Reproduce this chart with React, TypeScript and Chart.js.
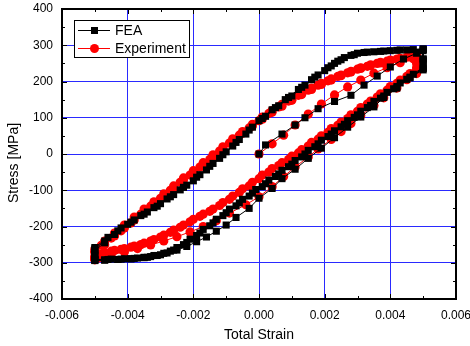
import React, { useEffect, useRef } from "react";
import { Chart, registerables } from "chart.js";

Chart.register(...registerables);

// ---------- data (strain, stress [MPa]) ----------
const seriesNames = ["FEA", "Experiment"];
const xTitle = "Total Strain";
const yTitle = "Stress [MPa]";

const xMajorTicks = [-0.006, -0.004, -0.002, 0, 0.002, 0.004, 0.006];
const xMinorTicks = [-0.005, -0.003, -0.001, 0.001, 0.003, 0.005];
const yMajorTicks = [-400, -300, -200, -100, 0, 100, 200, 300, 400];
const yMinorTicks = [-350, -250, -150, -50, 50, 150, 250, 350];

const feaInitialLoad = [
  [0, 0], [0.0002, 25], [0.0007, 55], [0.0011, 80], [0.0014, 100], [0.0018, 125],
  [0.0023, 145], [0.0028, 162], [0.0032, 190], [0.0036, 215], [0.004, 240],
  [0.0044, 262], [0.0048, 278], [0.005, 285],
];
const feaUnload1 = [
  [0.005, 262], [0.005, 237], [0.0046, 210], [0.0042, 182], [0.0038, 156], [0.0035, 130],
  [0.0031, 102], [0.0027, 74], [0.0023, 45], [0.0019, 16], [0.0015, -12], [0.0011, -42],
  [0.0007, -68], [0.0004, -95], [0, -122], [-0.0003, -150], [-0.0007, -175], [-0.001, -196],
  [-0.0013, -213], [-0.0016, -229], [-0.0019, -242], [-0.0022, -255], [-0.0025, -265],
  [-0.0028, -273], [-0.0032, -280], [-0.0035, -285], [-0.0039, -289], [-0.0043, -291],
  [-0.0047, -292], [-0.005, -293],
];
const feaReload1 = [
  [-0.005, -280], [-0.005, -266], [-0.0047, -245], [-0.0044, -222], [-0.004, -194],
  [-0.0036, -170], [-0.0032, -148], [-0.0028, -124], [-0.0024, -99], [-0.002, -74],
  [-0.0016, -44], [-0.0012, -12], [-0.0008, 22], [-0.0004, 55], [0, 92], [0.0004, 122],
  [0.0008, 150], [0.0012, 178], [0.0016, 205], [0.002, 230], [0.0023, 250], [0.0026, 266],
  [0.003, 278], [0.0035, 282], [0.004, 285], [0.0045, 287], [0.005, 288],
];
const feaUnload2 = [
  [0.005, 262], [0.005, 240], [0.0047, 220], [0.0043, 196], [0.0039, 170], [0.0035, 145],
  [0.0031, 118], [0.0027, 92], [0.0023, 64], [0.0019, 38], [0.0015, 10], [0.0011, -18],
  [0.0007, -45], [0.0003, -72], [-0.0001, -98], [-0.0005, -125], [-0.0009, -152],
  [-0.0013, -180], [-0.0017, -208], [-0.0021, -235], [-0.0025, -258], [-0.0029, -274],
  [-0.0033, -283], [-0.0037, -287], [-0.0041, -289], [-0.0045, -290], [-0.005, -291],
];
const feaReload2 = [
  [-0.005, -278], [-0.005, -262], [-0.0047, -240], [-0.0043, -212], [-0.0039, -188],
  [-0.0035, -166], [-0.0031, -144], [-0.0027, -118], [-0.0023, -92], [-0.0019, -64],
  [-0.0015, -34], [-0.0011, -2], [-0.0007, 32], [-0.0003, 66], [0.0001, 98], [0.0005, 128],
  [0.0009, 156], [0.0013, 184], [0.0017, 212], [0.0021, 238], [0.0024, 256], [0.0028, 272],
  [0.0032, 280], [0.0037, 283], [0.0042, 286], [0.0047, 288], [0.005, 289],
];
const feaUnload3 = [
  [0.005, 258], [0.005, 236], [0.0046, 212], [0.0042, 186], [0.0038, 160], [0.0034, 134],
  [0.003, 108], [0.0026, 82], [0.0022, 55], [0.0018, 28], [0.0014, 0], [0.001, -28],
  [0.0006, -55], [0.0002, -82], [-0.0002, -108], [-0.0006, -135], [-0.001, -162],
  [-0.0014, -190], [-0.0018, -218], [-0.0022, -244], [-0.0026, -265], [-0.003, -278],
  [-0.0034, -285], [-0.0038, -288], [-0.0042, -290], [-0.0046, -291], [-0.005, -292],
];
const feaReload3 = [
  [-0.005, -276], [-0.005, -258], [-0.0046, -230], [-0.0042, -204], [-0.0038, -182],
  [-0.0034, -160], [-0.003, -137], [-0.0026, -112], [-0.0022, -86], [-0.0018, -57],
  [-0.0014, -26], [-0.001, 6], [-0.0006, 40], [-0.0002, 74], [0.0002, 104], [0.0006, 133],
  [0.001, 160], [0.0014, 190], [0.0018, 218], [0.0022, 243], [0.0025, 260], [0.0029, 274],
  [0.0033, 281], [0.0038, 284], [0.0043, 287], [0.005, 290],
];
const feaUnload4 = [
  [0.005, 255], [0.005, 232], [0.0045, 206], [0.0041, 180], [0.0037, 154], [0.0033, 128],
  [0.0029, 101], [0.0025, 75], [0.0021, 48], [0.0017, 20], [0.0013, -8], [0.0009, -35],
  [0.0005, -62], [0.0001, -90], [-0.0003, -116], [-0.0007, -143], [-0.0011, -170],
  [-0.0015, -198], [-0.0019, -225], [-0.0023, -250], [-0.0027, -268], [-0.0031, -280],
  [-0.0035, -286], [-0.0039, -289], [-0.0043, -291], [-0.0047, -293], [-0.005, -294],
];

const expInitialLoad = [
  [0, 0], [0.0004, 28], [0.00075, 52], [0.0011, 80], [0.0015, 110], [0.0019, 138],
  [0.0023, 163], [0.0027, 185], [0.0031, 204], [0.0035, 223], [0.0039, 238],
  [0.0043, 252], [0.0047, 263], [0.0048, 268],
];
const expUnload1 = [
  [0.0048, 250], [0.0048, 222], [0.0045, 205], [0.0042, 182], [0.0038, 155], [0.0035, 134],
  [0.0031, 106], [0.0028, 84], [0.0025, 62], [0.0022, 40], [0.0018, 14], [0.0015, -8],
  [0.0011, -36], [0.00075, -62], [0.0004, -90], [0, -118], [-0.0004, -140], [-0.0009, -163],
  [-0.0013, -184], [-0.0017, -200], [-0.0021, -215], [-0.0025, -228], [-0.0029, -240],
  [-0.0033, -251], [-0.0037, -261], [-0.0041, -270], [-0.0045, -278], [-0.0049, -287],
  [-0.005, -292],
];
const expReload1 = [
  [-0.005, -285], [-0.005, -268], [-0.0048, -252], [-0.0045, -232], [-0.0042, -212],
  [-0.0039, -190], [-0.0036, -166], [-0.0033, -144], [-0.003, -122], [-0.0027, -100],
  [-0.0024, -78], [-0.0021, -58], [-0.0018, -36], [-0.0015, -15], [-0.0012, 8],
  [-0.0009, 30], [-0.0006, 52], [-0.0003, 72], [0, 92], [0.0003, 112], [0.0006, 130],
  [0.0009, 146], [0.0012, 162], [0.0015, 176], [0.0018, 190], [0.0021, 202], [0.0024, 214],
  [0.0027, 224], [0.003, 234], [0.0033, 242], [0.0036, 250], [0.0039, 256], [0.0042, 262],
  [0.0045, 267], [0.0048, 272],
];
const expUnload2 = [
  [0.0048, 258], [0.0048, 238], [0.0046, 222], [0.0043, 204], [0.004, 186], [0.0037, 166],
  [0.0034, 146], [0.0031, 128], [0.0028, 108], [0.0025, 88], [0.0022, 70], [0.0019, 50],
  [0.0016, 32], [0.0013, 12], [0.001, -6], [0.0007, -24], [0.0004, -40], [0.0001, -58],
  [-0.0002, -78], [-0.0005, -96], [-0.0008, -116], [-0.0011, -134], [-0.0014, -152],
  [-0.0017, -166], [-0.002, -180], [-0.0023, -196], [-0.0026, -210], [-0.0029, -224],
  [-0.0032, -236], [-0.0035, -246], [-0.0038, -254], [-0.0041, -261], [-0.0044, -266],
  [-0.0047, -272], [-0.005, -288],
];
const expReload2 = [
  [-0.005, -282], [-0.005, -262], [-0.0047, -240], [-0.0044, -218], [-0.0041, -196],
  [-0.0038, -174], [-0.0035, -152], [-0.0032, -132], [-0.0029, -110], [-0.0026, -88],
  [-0.0023, -66], [-0.002, -46], [-0.0017, -24], [-0.0014, -2], [-0.0011, 20],
  [-0.0008, 42], [-0.0005, 62], [-0.0002, 82], [0.0001, 102], [0.0004, 120], [0.0007, 137],
  [0.001, 152], [0.0013, 168], [0.0016, 182], [0.0019, 195], [0.0022, 207], [0.0025, 218],
  [0.0028, 228], [0.0031, 238], [0.0034, 246], [0.0037, 253], [0.004, 259], [0.0043, 264],
  [0.0046, 269], [0.0048, 274],
];
const expUnload3 = [
  [0.0048, 256], [0.0048, 234], [0.0045, 214], [0.0042, 195], [0.0039, 176], [0.0036, 157],
  [0.0033, 138], [0.003, 118], [0.0027, 98], [0.0024, 79], [0.0021, 60], [0.0018, 41],
  [0.0015, 22], [0.0012, 3], [0.0009, -15], [0.0006, -32], [0.0003, -50], [0, -68],
  [-0.0003, -88], [-0.0006, -106], [-0.0009, -125], [-0.0012, -142], [-0.0015, -158],
  [-0.0018, -172], [-0.0021, -187], [-0.0024, -202], [-0.0027, -216], [-0.003, -229],
  [-0.0033, -240], [-0.0036, -250], [-0.0039, -257], [-0.0042, -263], [-0.0045, -268],
  [-0.0048, -276], [-0.005, -290],
];
const expReload3 = [
  [-0.005, -288], [-0.005, -272], [-0.0047, -250], [-0.0044, -226], [-0.0041, -204],
  [-0.0038, -182], [-0.0035, -160], [-0.0032, -138], [-0.0029, -116], [-0.0026, -94],
  [-0.0023, -72], [-0.002, -52], [-0.0017, -30], [-0.0014, -8], [-0.0011, 14],
  [-0.0008, 36], [-0.0005, 57], [-0.0002, 77], [0.0001, 96], [0.0004, 115], [0.0007, 132],
  [0.001, 148], [0.0013, 164], [0.0016, 178], [0.0019, 192], [0.0022, 204], [0.0025, 216],
  [0.0028, 226], [0.0031, 236], [0.0034, 244], [0.0037, 251], [0.004, 257], [0.0043, 263],
  [0.0046, 268], [0.0048, 276],
];

const feaPath = [
  ...feaInitialLoad, ...feaUnload1, ...feaReload1, ...feaUnload2, ...feaReload2,
  ...feaUnload3, ...feaReload3, ...feaUnload4,
];
const expPath = [
  ...expInitialLoad, ...expUnload1, ...expReload1, ...expUnload2, ...expReload2,
  ...expUnload3, ...expReload3,
];

const FONT = "'Liberation Sans', Arial, sans-serif";
const GRID_BLUE = "#2a2aff";

function fmtX(v: number) {
  if (Math.abs(v) < 1e-12) return "0.000";
  return v.toFixed(3);
}

const overlayPlugin = {
  id: "overlay",
  afterDraw(chart: any) {
    const { ctx, chartArea, scales } = chart;
    const { left, right, top, bottom } = chartArea;
    const xs = scales.x;
    const ys = scales.y;
    ctx.save();

    // inward ticks on all four sides
    ctx.strokeStyle = "#000";
    ctx.lineWidth = 1;
    ctx.beginPath();
    const xt = (vals: number[], len: number) => {
      for (const v of vals) {
        const px = Math.round(xs.getPixelForValue(v)) + 0.5;
        ctx.moveTo(px, bottom);
        ctx.lineTo(px, bottom - len);
        ctx.moveTo(px, top);
        ctx.lineTo(px, top + len);
      }
    };
    const yt = (vals: number[], len: number) => {
      for (const v of vals) {
        const py = Math.round(ys.getPixelForValue(v)) + 0.5;
        ctx.moveTo(left, py);
        ctx.lineTo(left + len, py);
        ctx.moveTo(right, py);
        ctx.lineTo(right - len, py);
      }
    };
    xt(xMajorTicks, 5);
    xt(xMinorTicks, 3);
    yt(yMajorTicks, 5);
    yt(yMinorTicks, 3);
    ctx.stroke();

    // frame
    ctx.lineWidth = 2;
    ctx.strokeRect(left, top, right - left, bottom - top);

    // tick labels
    ctx.fillStyle = "#000";
    ctx.font = `12px ${FONT}`;
    ctx.textAlign = "center";
    ctx.textBaseline = "alphabetic";
    for (const v of xMajorTicks) {
      ctx.fillText(fmtX(v), xs.getPixelForValue(v), bottom + 20);
    }
    ctx.textAlign = "right";
    ctx.textBaseline = "middle";
    for (const v of yMajorTicks) {
      ctx.fillText(String(v), left - 9, ys.getPixelForValue(v));
    }

    // axis titles
    ctx.font = `14px ${FONT}`;
    ctx.textAlign = "center";
    ctx.textBaseline = "middle";
    ctx.fillText(xTitle, (left + right) / 2, 335);
    ctx.save();
    ctx.translate(14, 163);
    ctx.rotate(-Math.PI / 2);
    ctx.fillText(yTitle, 0, 0);
    ctx.restore();

    // legend
    const bx = left + 12;
    const by = top + 11;
    ctx.fillStyle = "#fff";
    ctx.fillRect(bx, by, 115, 37);
    ctx.strokeStyle = "#000";
    ctx.lineWidth = 1;
    ctx.strokeRect(bx + 0.5, by + 0.5, 115, 37);
    const items = [
      { name: seriesNames[0], color: "#000000", style: "rect" },
      { name: seriesNames[1], color: "#ff0000", style: "circle" },
    ];
    items.forEach((it, i) => {
      const cy = by + 10 + i * 18;
      ctx.strokeStyle = it.color;
      ctx.lineWidth = 1;
      ctx.beginPath();
      ctx.moveTo(bx + 4, cy + 0.5);
      ctx.lineTo(bx + 36, cy + 0.5);
      ctx.stroke();
      ctx.fillStyle = it.color;
      if (it.style === "rect") {
        ctx.fillRect(bx + 17, cy - 3, 7, 7);
      } else {
        ctx.beginPath();
        ctx.arc(bx + 20.5, cy + 0.5, 4.5, 0, Math.PI * 2);
        ctx.fill();
      }
      ctx.fillStyle = "#000";
      ctx.font = `14px ${FONT}`;
      ctx.textAlign = "left";
      ctx.textBaseline = "alphabetic";
      ctx.fillText(it.name, bx + 41, cy + 5);
    });

    ctx.restore();
  },
};

export default function App() {
  const canvasRef = useRef<HTMLCanvasElement | null>(null);

  useEffect(() => {
    const canvas = canvasRef.current;
    if (!canvas) return;
    const chart = new Chart(canvas, {
      type: "scatter",
      data: {
        datasets: [
          {
            label: seriesNames[0],
            data: feaPath.map(([x, y]) => ({ x, y })),
            showLine: true,
            borderColor: "#000000",
            backgroundColor: "#000000",
            borderWidth: 1,
            pointStyle: "rect",
            pointRadius: 5,
            pointBorderWidth: 0,
            tension: 0,
          },
          {
            label: seriesNames[1],
            data: expPath.map(([x, y]) => ({ x, y })),
            showLine: true,
            borderColor: "#ff0000",
            backgroundColor: "#ff0000",
            borderWidth: 1,
            pointStyle: "circle",
            pointRadius: 4.6,
            pointBorderWidth: 0,
            tension: 0,
          },
        ],
      },
      options: {
        responsive: false,
        animation: false,
        devicePixelRatio: 1,
        layout: { padding: { top: 9, right: 14, left: 0, bottom: 0 } },
        plugins: {
          legend: { display: false },
          tooltip: { enabled: false },
        },
        scales: {
          x: {
            type: "linear",
            min: -0.006,
            max: 0.006,
            afterFit: (scale: any) => {
              scale.height = 47;
            },
            ticks: { display: false, stepSize: 0.002 },
            grid: { color: GRID_BLUE, lineWidth: 1, drawTicks: false },
            border: { display: false },
          },
          y: {
            type: "linear",
            min: -400,
            max: 400,
            afterFit: (scale: any) => {
              scale.width = 62;
            },
            ticks: { display: false, stepSize: 100 },
            grid: { color: GRID_BLUE, lineWidth: 1, drawTicks: false },
            border: { display: false },
          },
        },
      },
      plugins: [overlayPlugin],
    });
    return () => chart.destroy();
  }, []);

  return (
    <div style={{ position: "absolute", left: 0, top: 0, width: 470, height: 346, background: "#fff" }}>
      <canvas ref={canvasRef} width={470} height={346} style={{ width: 470, height: 346, display: "block" }} />
    </div>
  );
}
